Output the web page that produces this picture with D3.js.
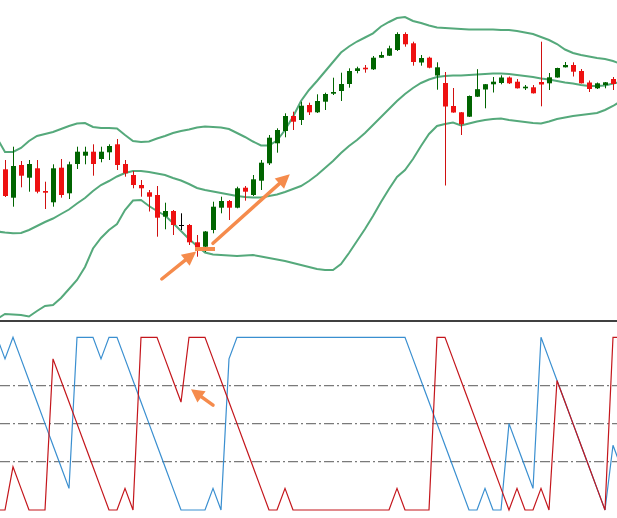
<!DOCTYPE html>
<html>
<head>
<meta charset="utf-8">
<script src="https://cdn.jsdelivr.net/npm/d3@7"></script>
<style>
  body { margin: 0; background: #fff; }
  svg { display: block; }
</style>
</head>
<body>
<script>
// candles, one per bar
var opens = [155.07,152.23,155.50,154.23,155.17,152.90,151.77,155.23,152.67,155.60,
  156.43,156.83,156.10,156.77,157.57,155.60,154.50,153.50,152.77,152.50,
  150.33,150.90,149.50,149.50,147.77,147.33,149.00,151.23,151.90,151.23,
  153.23,152.50,153.93,155.67,157.67,158.90,160.40,160.00,161.50,160.77,
  161.83,162.63,162.90,163.60,164.90,165.23,165.07,166.23,166.43,167.00,
  168.60,167.67,165.75,166.23,164.45,163.70,161.40,160.77,160.33,162.33,
  163.05,163.57,163.70,164.25,163.83,163.17,163.27,163.80,163.67,164.25,
  165.27,165.50,164.90,163.75,163.17,163.50,164.10];
var highs = [156.00,157.33,155.90,156.00,156.00,153.83,155.57,156.10,155.83,157.33,
  157.33,157.57,157.33,157.57,158.10,156.00,154.90,154.00,153.00,153.40,
  151.73,151.00,150.67,149.60,148.50,148.90,151.83,152.33,152.00,153.33,
  153.40,154.50,156.00,158.50,159.17,160.67,160.83,161.83,161.73,162.57,
  162.73,164.23,164.73,165.17,165.33,165.50,166.40,166.83,167.43,168.77,
  168.77,167.83,166.50,166.33,165.77,164.80,163.20,160.80,162.45,165.08,
  163.60,164.30,164.47,164.35,164.10,163.50,163.50,167.83,164.70,165.23,
  165.80,165.77,165.10,163.95,163.75,163.80,164.30];
var lows = [152.30,151.33,153.27,152.83,152.67,151.10,151.33,152.23,152.10,155.10,
  155.57,154.43,155.77,156.00,155.00,154.33,153.17,152.33,150.85,148.33,
  149.07,148.50,149.00,147.50,146.33,146.80,148.67,150.67,150.00,151.17,
  151.93,152.40,153.00,155.50,156.73,158.27,159.00,159.50,160.50,160.70,
  161.00,162.50,161.90,163.23,164.67,164.73,165.00,166.20,166.40,166.90,
  167.33,165.43,165.43,165.17,163.03,153.45,160.73,158.50,160.30,162.30,
  161.17,162.75,163.57,163.60,163.15,163.00,162.65,161.37,163.00,164.23,
  165.25,164.35,163.65,162.80,163.10,163.17,163.00];
var closes = [152.40,155.40,154.43,155.60,152.83,152.73,155.17,152.50,155.57,156.83,
  156.83,155.60,156.83,157.40,155.50,154.67,153.50,153.17,152.33,150.23,
  150.90,149.50,149.50,147.77,147.23,148.85,151.33,151.90,151.23,153.17,
  152.83,154.07,155.73,158.23,159.00,160.40,159.83,161.43,160.77,161.90,
  162.60,162.80,163.60,164.90,165.17,165.07,166.23,166.50,167.17,168.60,
  167.57,165.80,166.20,165.23,165.27,161.35,160.75,159.58,162.40,163.08,
  163.58,163.83,164.25,163.67,163.17,163.33,162.67,163.55,164.27,165.20,
  165.50,164.83,163.67,163.10,163.67,163.77,163.60];

// bollinger bands and aroon lines start one bar before the first candle
var lineStart = -1;
var upperBand = [158.2,156.8,156.8,157.2,157.9,158.4,158.6,158.8,159.1,159.4,159.65,
  159.7,159.3,159.2,159.2,159.15,158.5,157.9,157.8,157.85,158.15,
  158.4,158.7,158.9,159.05,159.25,159.35,159.3,159.25,159.1,158.7,
  158.3,157.85,157.45,157.45,157.95,159.0,160.33,161.9,163.0,163.9,
  164.85,165.8,166.75,167.35,167.85,168.25,168.67,169.35,169.8,170.2,
  170.3,169.9,169.7,169.45,169.25,169.2,169.15,169.1,169.05,169.05,
  169.05,169.05,169.0,169.0,168.9,168.75,168.6,168.3,168.0,167.6,
  167.05,166.7,166.5,166.35,166.2,166.1,165.9,165.6];
var middleBand = [148.85,148.75,148.67,148.7,149.0,149.4,149.8,150.15,150.6,151.05,151.65,
  152.2,152.9,153.5,153.9,154.35,154.7,154.9,154.9,154.8,154.65,
  154.5,154.2,153.95,153.6,153.2,153.0,152.85,152.7,152.55,152.4,
  152.3,152.25,152.25,152.4,152.55,152.8,153.1,153.4,153.9,154.5,
  155.2,155.9,156.7,157.4,158.0,158.7,159.5,160.3,161.1,161.9,
  162.6,163.2,163.7,164.05,164.3,164.4,164.45,164.45,164.5,164.55,
  164.6,164.65,164.65,164.6,164.5,164.4,164.3,164.15,164.05,163.9,
  163.75,163.65,163.5,163.4,163.4,163.45,163.65,163.8];
var lowerBand = [140.1,140.6,140.55,140.5,140.35,140.9,141.4,141.5,142.2,143.1,144.0,
  145.3,147.15,148.2,149.0,149.6,151.0,151.95,152.0,151.4,150.9,
  150.45,149.7,148.9,148.1,147.4,146.75,146.55,146.5,146.45,146.4,
  146.45,146.5,146.35,146.2,146.05,145.9,145.7,145.5,145.3,145.1,
  145.0,145.0,145.6,146.7,147.9,149.1,150.4,151.8,153.1,154.3,
  155.0,156.1,157.4,158.6,159.4,159.6,159.75,159.45,159.65,159.85,
  160.0,160.1,160.15,160.0,159.9,159.8,159.7,159.65,159.85,160.1,
  160.25,160.4,160.5,160.6,160.7,161.0,161.4,161.9];

var aroonUp = [100,87.5,100,87.5,75,62.5,50,37.5,25,12.5,
  100,100,100,87.5,100,100,87.5,75,62.5,50,
  37.5,25,12.5,0,0,0,0,12.5,0,87.5,
  100,100,100,100,100,100,100,100,100,100,
  100,100,100,100,100,100,100,100,100,100,
  100,100,87.5,75,62.5,50,37.5,25,12.5,0,
  0,12.5,0,0,50,37.5,25,12.5,100,87.5,
  75,62.5,50,37.5,25,12.5,0,37.5,25];
var aroonDown = [0,0,25,12.5,0,0,0,87.5,75,62.5,
  50,37.5,25,12.5,0,0,12.5,0,100,100,
  100,87.5,75,62.5,100,100,100,87.5,75,62.5,
  50,37.5,25,12.5,0,0,12.5,0,0,0,
  0,0,0,0,0,0,0,0,0,0,
  12.5,0,0,0,0,100,100,87.5,75,62.5,
  50,37.5,25,12.5,0,12.5,0,0,12.5,0,
  75,62.5,50,37.5,25,12.5,0,100,100];
var aroonLevels = [72, 50, 28];

// annotations, in bar / price units
var priceArrows = [
  {x1: 19.6, y1: 144.1, x2: 23.9, y2: 146.85},
  {x1: 26, y1: 147.67, x2: 35.6, y2: 154.57}
];
var priceMark = {x1: 23.75, x2: 26.25, y: 147.1};
var aroonArrows = [
  {x1: 26, y1: 60.7, x2: 23.25, y2: 69.9}
];

var width = 617, height = 518;
var green = "#006400", red = "#ee1111", orange = "#f58b4c";

var svg = d3.select("body").append("svg")
    .attr("width", width)
    .attr("height", height);

var x = d3.scaleLinear().domain([0, 76]).range([5, 613]);
var y = d3.scaleLinear().domain([140, 172]).range([320, 0]);
var ya = d3.scaleLinear().domain([0, 100]).range([510, 337.3]);

// bollinger bands
var bandLine = d3.line()
    .x(function(d, i) { return x(i + lineStart); })
    .y(function(d) { return y(d); });

[upperBand, middleBand, lowerBand].forEach(function(band) {
  svg.append("path")
      .attr("d", bandLine(band))
      .attr("fill", "none")
      .attr("stroke", "#55a97b")
      .attr("stroke-width", 2);
});

// candles
var candles = opens.map(function(o, i) {
  return {i: i, open: o, high: highs[i], low: lows[i], close: closes[i]};
});
function candleColor(d) {
  if (d.close > d.open) return green;
  if (d.close < d.open) return red;
  return "#000";
}

var cg = svg.append("g");
cg.selectAll(".wick")
    .data(candles)
  .enter().append("line")
    .attr("class", "wick")
    .attr("x1", function(d) { return Math.round(x(d.i)) + 0.5; })
    .attr("x2", function(d) { return Math.round(x(d.i)) + 0.5; })
    .attr("y1", function(d) { return y(d.high); })
    .attr("y2", function(d) { return y(d.low); })
    .attr("stroke", function(d) { return d.close < d.open ? "#d01010" : candleColor(d); })
    .attr("stroke-width", 1);

cg.selectAll(".body")
    .data(candles)
  .enter().append("rect")
    .attr("class", "body")
    .attr("x", function(d) { return Math.round(x(d.i)) - 2; })
    .attr("width", 5)
    .attr("y", function(d) { return y(Math.max(d.open, d.close)); })
    .attr("height", function(d) { return Math.max(1, Math.abs(y(d.open) - y(d.close))); })
    .attr("fill", candleColor);

// arrows
function drawArrow(g, x1, y1, x2, y2, headLen, headW) {
  var dx = x2 - x1, dy = y2 - y1;
  var len = Math.sqrt(dx * dx + dy * dy);
  var ux = dx / len, uy = dy / len;
  var bx = x2 - ux * headLen, by = y2 - uy * headLen;
  g.append("line")
      .attr("x1", x1).attr("y1", y1)
      .attr("x2", bx).attr("y2", by)
      .attr("stroke", orange)
      .attr("stroke-width", 3.5)
      .attr("stroke-linecap", "round");
  g.append("polygon")
      .attr("points", [[x2, y2], [bx - uy * headW, by + ux * headW], [bx + uy * headW, by - ux * headW]].join(" "))
      .attr("fill", orange);
}

var ag = svg.append("g");
priceArrows.forEach(function(a) {
  drawArrow(ag, x(a.x1), y(a.y1), x(a.x2), y(a.y2), 14, 7);
});
ag.append("line")
    .attr("x1", x(priceMark.x1)).attr("x2", x(priceMark.x2))
    .attr("y1", y(priceMark.y)).attr("y2", y(priceMark.y))
    .attr("stroke", orange)
    .attr("stroke-width", 4);

// panel separator
svg.append("line")
    .attr("x1", 0).attr("x2", width)
    .attr("y1", 321).attr("y2", 321)
    .attr("stroke", "#000")
    .attr("stroke-width", 1.4);

// aroon levels
svg.selectAll(".level")
    .data(aroonLevels)
  .enter().append("line")
    .attr("class", "level")
    .attr("x1", 0).attr("x2", width)
    .attr("y1", function(d) { return ya(d); })
    .attr("y2", function(d) { return ya(d); })
    .attr("stroke", "#7a7a7a")
    .attr("stroke-width", 1.2)
    .attr("stroke-dasharray", "10,3,2,3");

var aroonLine = d3.line()
    .x(function(d, i) { return x(i + lineStart); })
    .y(function(d) { return ya(d); });

svg.append("path")
    .attr("d", aroonLine(aroonUp))
    .attr("fill", "none")
    .attr("stroke", "#3a8fd0")
    .attr("stroke-width", 1.2);

svg.append("path")
    .attr("d", aroonLine(aroonDown))
    .attr("fill", "none")
    .attr("stroke", "#c4161c")
    .attr("stroke-width", 1.2);

aroonArrows.forEach(function(a) {
  drawArrow(ag.raise(), x(a.x1), ya(a.y1), x(a.x2), ya(a.y2), 13, 7);
});
</script>
</body>
</html>
